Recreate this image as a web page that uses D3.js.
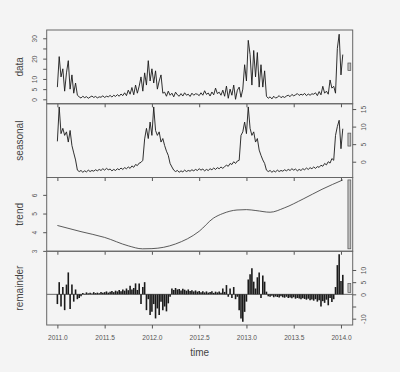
<!DOCTYPE html>
<html>
<head>
<meta charset="utf-8">
<script src="https://cdn.jsdelivr.net/npm/d3@7"></script>
<style>
  html, body { margin: 0; padding: 0; background: #f4f4f4; }
  #chart-container { width: 400px; height: 372px; }
  text { font-family: "Liberation Sans", Arial, sans-serif; }
</style>
</head>
<body>
<div id="chart-container"></div>
<script>
// readings taken about once a week off the picture, first one at 2011.0
const startYear = 2011.0;
const step = 1 / 52;

const dataValues = [
    6, 21, 11, 15, 4, 13, 19, 5, 12, 3, 8, 2,
    1.2, 0.6, 1.5, 0.8, 1.3, 0.5, 1.1, 1.6, 0.9, 1.4, 0.7, 1.2, 1.0, 1.7, 0.9, 1.5, 1.2, 1.9, 1.1, 2.0, 1.4, 2.3, 1.5, 2.6, 1.8,
    3.2, 1.8, 4.5, 2.5, 5.8, 2.2, 7.0, 3.0, 6.5,
    11, 4, 13, 7, 19, 9, 15, 8, 14, 5, 9, 12, 3,
    3.5, 1.5, 4, 2, 3, 1.2, 3.5, 2.2, 1.5, 2.8, 1.6, 3.2, 2.0, 2.5, 1.4, 3, 2, 2.7,
    2.5, 1.8, 3.2, 2, 4.2, 2.4, 3.1, 1.6, 3.6, 2.2, 5.5, 2.8, 3.5, 2, 4.5, 1.5,
    6.5, 0.5, 5, 2, 7, 0, 4.5, 6, 1,
    5, 17, 9, 29, 22, 7, 24, 11, 23, 6, 17, 6, 14, 1.5,
    0.5, 1.2, 0.2, 1.5, 0.6, 1.0, 1.8, 0.8, 1.4, 0.9, 1.6, 2.0, 1.3, 2.4, 1.7, 2.2, 2.8, 1.9, 2.5, 2.1, 2.9, 1.8, 2.6, 2.0, 2.7,
    2.5, 3.2, 1.8, 3.8, 2.2, 6.4, 3.0, 4.0, 2.5, 9.5, 5.5, 6.4, 3.0,
    25, 32, 12, 22
];

const seasonalValues = [
    5.8, 15.6, 8, 9.5, 7.5, 8.5, 5.6, 8.9, 4.6, 2.5, 0.5, -2.4,
    -2.8, -2.5, -3.0, -2.6, -2.9, -2.4, -2.8, -2.5, -2.7, -2.3, -2.6, -2.2, -2.5, -2.0, -2.4, -1.9, -2.3, -2.1, -2.6, -2.2, -2.5, -2.0, -2.3, -1.8, -2.2, -1.7, -2.0, -1.5, -1.9,
    -1.2, -1.6, -0.8, -1.1, -0.4, -0.2, 0.4,
    6.5, 9.5, 6.6, 11.3, 7.5, 15.6, 8.9, 7.5, 8.5, 5.6, 6.6, 4.6, 3, 1.8, -0.5, -1.5, -2.4,
    -2.8, -2.5, -3.0, -2.6, -2.9, -2.4, -2.8, -2.5, -2.7, -2.3, -2.6, -2.2, -2.5, -2.0, -2.4, -2.1, -2.6, -2.2, -2.5, -2.0, -2.3, -1.8, -2.2, -1.7, -2.0, -1.5, -1.9, -1.4,
    -1.0, -1.3, -0.5, -0.8, 0.0, -0.5, 0.2, 0.4,
    7.5, 8.5, 11.3, 8, 15.6, 9.5, 7.5, 8.5, 5.6, 6.6, 3.3, 1.8, 0.5, -0.5, -2.4,
    -2.8, -2.5, -3.0, -2.6, -2.9, -2.4, -2.8, -2.5, -2.7, -2.3, -2.6, -2.2, -2.5, -2.0, -2.4, -2.1, -2.6, -2.2, -2.5, -2.0, -2.3, -1.8, -2.2, -1.7, -2.0, -1.5, -1.9, -1.4, -1.6, -1.0, -1.3,
    -0.5, -0.9, 0.0, -0.4, 0.9, 0.4,
    7.5, 10, 11.8, 3.7, 9.4
];

const remainderValues = [
    -4, 5, -5, 3, -6.5, 4, 9, -6, 4, -3, 2, -2, -1.5, -0.8,
    0.5, 0.2, 0.8, 0.4, 0.6, 0.3, 0.9, 0.5, 0.7, 0.4, 1.0, 0.6, 0.9, 1.2, 0.7, 1.1, 1.4, 0.9, 1.5, 1.2, 1.8, 1.3, 2.0, 1.5, 2.4, 1.7, 3.5, 2.0, 2.6, 4.5, 1.8,
    4.5, -4, 3, 5, -6.5, -2, -8.5, -7.2, -4, -9.9, -5.8, -8.5, -3, -6.5, -5, -7, -3.7, -1,
    2.4, 1.8, 2.6, 2.0, 2.2, 1.6, 2.3, 1.9, 1.5, 2.0, 1.4, 1.7, 1.2, 1.6, 1.1, 1.4, 0.9, 1.3, 0.8, 1.2, 0.7, 1.0, 1.3, 0.6, 1.1, 0.8, 1.2, 0.7, 2.4, 1.0,
    3.8, -1, 2.4, -1.5, 3, -2, -1, -6.5, -9.9, -11.3, -7.2, -3, 6.1, 8.2, 10.7, 5.2, 2.4, 7, 9, -1.5, 7.7, 5.2, 1.1,
    -0.8, -1.0, -0.6, -1.2, -0.9, -1.1, -1.3, -0.8, -1.2, -1.4, -1.0, -1.5, -1.3, -1.6, -1.2, -1.8, -1.5, -1.7, -2.0, -1.6, -1.9, -2.2, -1.8, -2.4, -2.1, -2.6, -2.0, -3.0, -2.4, -5.0, -2.8, -3.5, -2.2, -4.5, -1.5, -3.2,
    -2, 3, 12, 16.5, 5.5, 8
];

// trend is smooth, so a handful of points is enough
const trendYears = [2011.0, 2011.25, 2011.5, 2011.75, 2011.9, 2012.0, 2012.25, 2012.5, 2012.65, 2012.75, 2012.9, 2013.0, 2013.1, 2013.25, 2013.4, 2013.6, 2013.8, 2014.02];
const trendValues = [4.36, 4.03, 3.72, 3.27, 3.11, 3.12, 3.37, 4.05, 4.75, 5.0, 5.19, 5.21, 5.16, 5.07, 5.3, 5.78, 6.3, 6.8];

const xTicks = [2011.0, 2011.5, 2012.0, 2012.5, 2013.0, 2013.5, 2014.0];
const dataTicks = [0, 5, 10, 15, 20, 25, 30];
const dataTickLabels = ["0", "5", "10", "", "20", "", "30"];
const seasonalTicks = [0, 5, 10, 15];
const seasonalTickLabels = ["0", "5", "10", "15"];
const trendTicks = [3, 4, 5, 6];
const trendTickLabels = ["3", "4", "5", "6"];
const remainderTicks = [-10, -5, 0, 5, 10];
const remainderTickLabels = ["-10", "", "0", "5", "10"];

const createChart = () => {
    const width = 400;
    const height = 372;
    const left = 46.7, right = 352.7, top = 30, bottom = 325;
    const panelH = (bottom - top) / 4;
    const ink = "#1a1a1a";
    const axisInk = "#555";

    const svg = d3.select("#chart-container")
        .append("svg")
        .attr("width", width)
        .attr("height", height);

    svg.append("rect")
        .attr("width", width)
        .attr("height", height)
        .attr("fill", "#f4f4f4");

    const x = d3.scaleLinear()
        .domain([2010.887, 2014.124])
        .range([left, right]);

    const weekly = values => values.map((v, i) => ({ t: startYear + i * step, v }));

    const panels = [
        { name: "data", points: weekly(dataValues), domain: [-2.19, 34.08], side: "left", ticks: dataTicks, labels: dataTickLabels, kind: "line" },
        { name: "seasonal", points: weekly(seasonalValues), domain: [-4.5, 16.51], side: "right", ticks: seasonalTicks, labels: seasonalTickLabels, kind: "line" },
        { name: "trend", points: trendYears.map((t, i) => ({ t, v: trendValues[i] })), domain: [2.98, 6.93], side: "left", ticks: trendTicks, labels: trendTickLabels, kind: "smooth" },
        { name: "remainder", points: weekly(remainderValues), domain: [-12.6, 17.7], side: "right", ticks: remainderTicks, labels: remainderTickLabels, kind: "h" }
    ];

    // height of the grey bars: the smallest range among the four series
    const hr = d3.min(panels, p => {
        const e = d3.extent(p.points, d => d.v);
        return e[1] - e[0];
    });
    const dx = (right - left) / 64;

    panels.forEach((p, k) => {
        const y0 = top + k * panelH;
        const y = d3.scaleLinear()
            .domain(p.domain)
            .range([y0 + panelH, y0]);

        const g = svg.append("g");

        if (p.kind === "h") {
            g.append("line")
                .attr("x1", left)
                .attr("x2", right)
                .attr("y1", y(0))
                .attr("y2", y(0))
                .style("stroke", "#444")
                .style("stroke-width", 0.8);

            g.selectAll("line.bar")
                .data(p.points)
                .join("line")
                .attr("class", "bar")
                .attr("x1", d => x(d.t))
                .attr("x2", d => x(d.t))
                .attr("y1", y(0))
                .attr("y2", d => y(d.v))
                .style("stroke", ink)
                .style("stroke-width", 1.6);
        } else {
            const line = d3.line()
                .x(d => x(d.t))
                .y(d => y(d.v));
            if (p.kind === "smooth") line.curve(d3.curveMonotoneX);

            g.append("path")
                .datum(p.points)
                .attr("d", line)
                .style("fill", "none")
                .style("stroke", p.kind === "smooth" ? "#333" : ink)
                .style("stroke-width", p.kind === "smooth" ? 0.8 : 0.9)
                .style("stroke-linejoin", "round");
        }

        // range bar
        const ext = d3.extent(p.points, d => d.v);
        const mid = (ext[0] + ext[1]) / 2;
        g.append("rect")
            .attr("x", right - dx)
            .attr("width", 0.6 * dx)
            .attr("y", y(mid + hr / 2))
            .attr("height", y(mid - hr / 2) - y(mid + hr / 2))
            .style("fill", "#bdbdbd")
            .style("stroke", "#555")
            .style("stroke-width", 0.7);

        // panel box
        g.append("rect")
            .attr("x", left)
            .attr("y", y0)
            .attr("width", right - left)
            .attr("height", panelH)
            .style("fill", "none")
            .style("stroke", "#666")
            .style("stroke-width", 1);

        // y axis, labels turned like R does
        const isLeft = p.side === "left";
        const yAxis = (isLeft ? d3.axisLeft(y) : d3.axisRight(y))
            .tickValues(p.ticks)
            .tickFormat((d, i) => p.labels[i])
            .tickSize(3.5);

        const ag = svg.append("g")
            .attr("transform", `translate(${isLeft ? left : right},0)`)
            .call(yAxis);
        ag.select(".domain").remove();
        ag.selectAll("line").style("stroke", axisInk);
        ag.selectAll("text")
            .attr("transform", "rotate(-90)")
            .attr("x", 0)
            .attr("y", isLeft ? -9.8 : 13.7)
            .attr("dy", null)
            .attr("text-anchor", "middle")
            .style("font-size", "6.6px")
            .style("fill", axisInk);

        // x ticks under every panel, numbers only under the last one
        const last = k === panels.length - 1;
        const xAxis = d3.axisBottom(x)
            .tickValues(xTicks)
            .tickFormat(last ? d3.format(".1f") : "")
            .tickSize(3.5);

        const xg = svg.append("g")
            .attr("transform", `translate(0,${y0 + panelH})`)
            .call(xAxis);
        xg.select(".domain").remove();
        xg.selectAll("line").style("stroke", axisInk);
        xg.selectAll("text")
            .attr("y", 14.9)
            .attr("dy", null)
            .style("font-size", "6.6px")
            .style("fill", axisInk);

        // panel title
        svg.append("text")
            .attr("transform", `translate(23.3,${y0 + panelH / 2}) rotate(-90)`)
            .attr("text-anchor", "middle")
            .style("font-size", "10px")
            .style("fill", "#444")
            .text(p.name);
    });

    svg.append("text")
        .attr("x", (left + right) / 2)
        .attr("y", 355.7)
        .attr("text-anchor", "middle")
        .style("font-size", "10px")
        .style("fill", "#444")
        .text("time");
};

document.addEventListener("DOMContentLoaded", createChart);
</script>
</body>
</html>
